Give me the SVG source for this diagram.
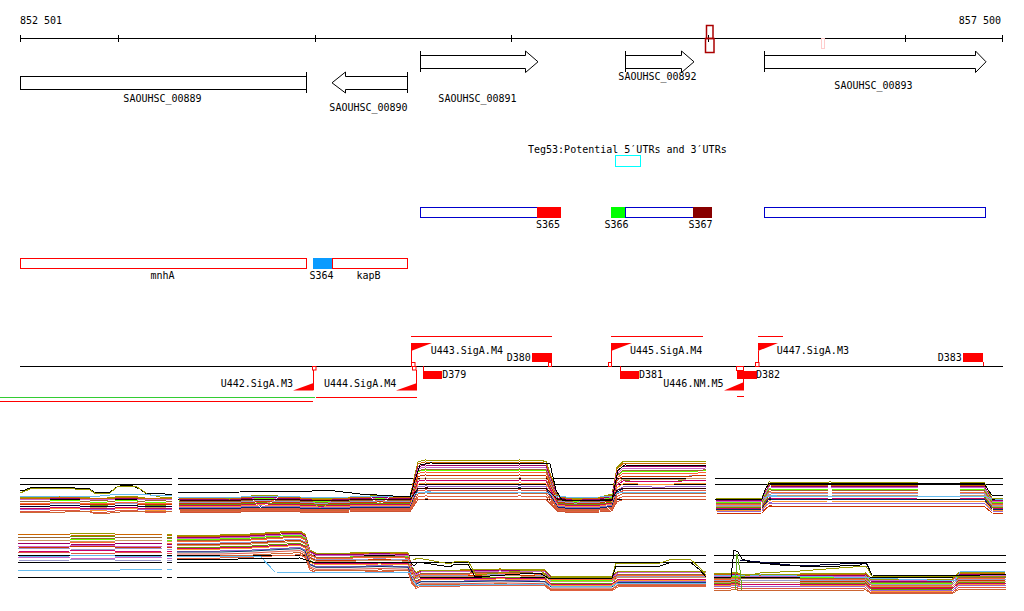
<svg xmlns="http://www.w3.org/2000/svg" width="1024" height="611" viewBox="0 0 1024 611">
<style>
.lb{font-family:"DejaVu Sans Mono","Liberation Mono",monospace;font-size:10px;fill:#000}
.gene{fill:#fff;stroke:#000;stroke-width:1}
.k{stroke:#000;stroke-width:1;fill:none}
.rs{stroke:#f00;stroke-width:1;fill:none}
.rf{fill:#f00}
.bx{fill:none;stroke:#00c;stroke-width:1}
.n{fill:none;stroke-width:1;vector-effect:non-scaling-stroke}
.t{fill:none;stroke-width:1}
.px{shape-rendering:crispEdges}
</style>
<defs>
<path id="tl" class="n" d="M20,0 L35,0.5 L50,0 L70,-0.5 L90,0.5 L100,1 L115,0 L130,-0.5 L145,0.5 L160,1 L172,0"/>
<path id="tm" class="n" d="M178,0 L230,0.03 L260,-0.05 L300,0 L320,0.05 L350,0 L380,-0.04 L410,0 L414,-0.5 L418,-0.95 L425,-1 L470,-0.98 L520,-1 L546,-0.97 L552,-0.5 L558,-0.03 L575,0.04 L600,0 L612,-0.08 L617,-0.8 L623,-0.96 L660,-0.95 L706,-0.97"/>
<path id="tr" class="n" d="M715,0 L740,0.03 L762,0 L765,-0.5 L769,-1 L800,-0.98 L830,-1 L870,-0.97 L920,-1 L960,-1 L984,-1 L988,-0.5 L992,0 L1003,0.02"/>
<path id="bl" class="n" d="M18,0 L40,0.5 L70,0 L100,-0.5 L130,0.5 L162,0 M167,0 L172,0"/>
<path id="bm" class="n" d="M177,0 L220,0 L250,-1 L280,-3 L300,-4 L305,-1 L310,15 L316,18 L350,18 L380,17 L408,18 L412,32 L416,38 L421,35 L460,35 L500,34 L545,35 L551,41 L612,41 L618,36 L706,36"/>
<path id="br" class="n" d="M714,0 L731,0 L735,-1 L740,1 L800,1 L866,0 L871,6 L952,6 L958,0 L1006,-1"/>
</defs>

<g id="ruler">
<line x1="20" y1="38.5" x2="1003" y2="38.5" class="k"/>
<path class="k" d="M20.5,35V42 M118.5,35V42 M315.5,35V42 M511.5,35V42 M708.5,35V42 M905.5,35V42 M1002.5,35V42"/>
<text class="lb" x="20" y="24">852 501</text>
<text class="lb" x="1001" y="24" text-anchor="end">857 500</text>
<rect x="706.5" y="25.5" width="6.5" height="13" fill="none" stroke="#a00" stroke-width="1.5"/>
<rect x="705.5" y="38.5" width="8.5" height="14" fill="none" stroke="#a00" stroke-width="1.5"/>
<rect x="821.5" y="38.5" width="3" height="10" fill="none" stroke="#fcc"/>
</g>

<g id="SAOUHSC_00889">
<rect class="gene" x="20.5" y="76.5" width="286" height="13"/>
<line class="k" x1="306.5" y1="72" x2="306.5" y2="93"/>
<text class="lb" x="162.5" y="101.5" text-anchor="middle">SAOUHSC_00889</text>
</g>
<g id="SAOUHSC_00890">
<polygon class="gene" points="407.5,76.5 345.5,76.5 345.5,72 332,82.8 345.5,93 345.5,89.5 407.5,89.5"/>
<line class="k" x1="407.5" y1="72" x2="407.5" y2="93"/>
<text class="lb" x="368.5" y="111" text-anchor="middle">SAOUHSC_00890</text>
</g>
<g id="SAOUHSC_00891">
<polygon class="gene" points="420.5,55.5 525.5,55.5 525.5,51 538,61.8 525.5,72.5 525.5,68.5 420.5,68.5"/>
<line class="k" x1="420.5" y1="51" x2="420.5" y2="72"/>
<text class="lb" x="477.5" y="101.5" text-anchor="middle">SAOUHSC_00891</text>
</g>
<g id="SAOUHSC_00892">
<polygon class="gene" points="625.5,55.5 681.5,55.5 681.5,51 694,61.8 681.5,72.5 681.5,68.5 625.5,68.5"/>
<line class="k" x1="625.5" y1="51" x2="625.5" y2="72"/>
<text class="lb" x="657.5" y="79.5" text-anchor="middle">SAOUHSC_00892</text>
</g>
<g id="SAOUHSC_00893">
<polygon class="gene" points="764.5,55.5 975.5,55.5 975.5,51 986,61.8 975.5,72.5 975.5,68.5 764.5,68.5"/>
<line class="k" x1="764.5" y1="51" x2="764.5" y2="72"/>
<text class="lb" x="873.5" y="88.8" text-anchor="middle">SAOUHSC_00893</text>
</g>

<g id="Teg53">
<text class="lb" x="528" y="152.5">Teg53:Potential 5′UTRs and 3′UTRs</text>
<rect x="615.5" y="155.5" width="25" height="11" fill="none" stroke="#0ff"/>
</g>

<g id="S365">
<rect class="bx" x="420.5" y="207.5" width="140" height="10"/>
<rect x="537" y="207" width="24" height="11" fill="#f00"/>
<text class="lb" x="548" y="228" text-anchor="middle">S365</text>
</g>
<g id="S366-S367">
<rect x="611" y="207" width="14.5" height="11" fill="#0f0"/>
<rect class="bx" x="625.5" y="207.5" width="86" height="10"/>
<rect x="693" y="207" width="19" height="11" fill="#800"/>
<text class="lb" x="616.5" y="228" text-anchor="middle">S366</text>
<text class="lb" x="700.5" y="228" text-anchor="middle">S367</text>
</g>
<g id="utr893">
<rect class="bx" x="764.5" y="207.5" width="221" height="10"/>
</g>

<g id="mnhA">
<rect x="20.5" y="258.5" width="286" height="10" fill="none" stroke="#f00"/>
<text class="lb" x="162.5" y="279" text-anchor="middle">mnhA</text>
</g>
<g id="S364">
<rect x="313" y="258" width="19" height="11" fill="#0a9bff"/>
<text class="lb" x="321.5" y="279" text-anchor="middle">S364</text>
</g>
<g id="kapB">
<rect x="332.5" y="258.5" width="75" height="10" fill="none" stroke="#f00"/>
<text class="lb" x="368.5" y="279" text-anchor="middle">kapB</text>
</g>

<g id="connectors">
<line class="k" x1="20" y1="366.5" x2="1003" y2="366.5"/>
<path class="rs" d="M313.5,370V390 M416.5,370V390 M411.5,343V363 M551.5,362V366 M423.5,366V371 M611.5,343V363 M620.5,366V371 M743.5,366V390 M758.5,351V363 M983.5,362V366"/>
<line x1="0" y1="397.5" x2="315" y2="397.5" stroke="#3c3" stroke-width="1"/>
<line x1="0" y1="401.5" x2="313" y2="401.5" stroke="#f00" stroke-width="1"/>
<line x1="316" y1="397.5" x2="417" y2="397.5" stroke="#f00" stroke-width="1"/>
<line x1="737" y1="396.5" x2="744" y2="396.5" stroke="#f00" stroke-width="1"/>
</g>

<g id="U442">
<polygon class="rf" points="293,390.5 313.5,390.5 313.5,383"/>
<rect class="rs" x="312.5" y="366.5" width="3.5" height="3.5"/>
<text class="lb" x="220.7" y="386.5">U442.SigA.M3</text>
</g>
<g id="U444">
<polygon class="rf" points="396,390.5 417,390.5 417,383"/>
<rect class="rs" x="412.5" y="366.5" width="3.5" height="3.5"/>
<text class="lb" x="324" y="386.5">U444.SigA.M4</text>
</g>
<g id="U443">
<line class="rs" x1="411" y1="336.5" x2="552" y2="336.5"/>
<polygon class="rf" points="411,343 432,343 411,351"/>
<rect class="rs" x="411.5" y="362.5" width="3.5" height="4"/>
<text class="lb" x="430.7" y="353.5">U443.SigA.M4</text>
</g>
<g id="D380">
<rect class="rf" x="532" y="353" width="20" height="9"/>
<rect class="rs" x="548.5" y="362.5" width="3" height="4"/>
<text class="lb" x="506.7" y="361">D380</text>
</g>
<g id="D379">
<rect class="rf" x="423" y="371" width="19" height="8"/>
<text class="lb" x="442.3" y="378.3">D379</text>
</g>
<g id="U445">
<line class="rs" x1="611" y1="336.5" x2="703" y2="336.5"/>
<polygon class="rf" points="611,343 632,343 611,351"/>
<rect class="rs" x="608.5" y="362.5" width="3" height="4"/>
<text class="lb" x="630" y="353.5">U445.SigA.M4</text>
</g>
<g id="D381">
<rect class="rf" x="620" y="371" width="19" height="8"/>
<text class="lb" x="639" y="378.3">D381</text>
</g>
<g id="U446">
<polygon class="rf" points="724,390.5 744,390.5 744,382"/>
<rect class="rs" x="736.5" y="366.5" width="7" height="4"/>
<text class="lb" x="663.3" y="387">U446.NM.M5</text>
</g>
<g id="D382">
<rect class="rf" x="737" y="371" width="20" height="8"/>
<text class="lb" x="756" y="378.3">D382</text>
</g>
<g id="U447">
<line class="rs" x1="758" y1="336.5" x2="783" y2="336.5"/>
<polygon class="rf" points="758,343 778,343 758,351"/>
<rect class="rs" x="755.5" y="362.5" width="3.5" height="4"/>
<text class="lb" x="776.7" y="353.5">U447.SigA.M3</text>
</g>
<g id="D383">
<rect class="rf" x="963" y="353" width="20" height="9"/>
<text class="lb" x="937.7" y="361">D383</text>
</g>

<g id="refLines" class="k px">
<path d="M20,478.5H172 M178,478.5H706 M715,478.5H1003 M20,484.5H172 M178,484.5H706 M715,484.5H1003 M20,499.5H172 M178,499.5H706 M715,499.5H1003"/>
<path d="M18,555.5H162 M167,555.5H172 M177,555.5H706 M714,555.5H1006 M18,562.5H162 M167,562.5H172 M177,562.5H706 M714,562.5H1006 M18,577.5H162 M167,577.5H172 M177,577.5H706 M714,577.5H1006"/>
</g>

<g id="traceTopLeft" class="px">
<use href="#tl" transform="translate(0,497) scale(1,2)" stroke="#999900"/>
<use href="#tl" transform="translate(0,498) scale(1,1)" stroke="#cc6600"/>
<use href="#tl" transform="translate(0,499) scale(1,2)" stroke="#990066"/>
<use href="#tl" transform="translate(0,500) scale(1,-1)" stroke="#cc66cc"/>
<use href="#tl" transform="translate(0,501) scale(1,2)" stroke="#66ff00"/>
<use href="#tl" transform="translate(0,502) scale(1,-2)" stroke="#996633"/>
<use href="#tl" transform="translate(0,503) scale(1,1)" stroke="#ff6633"/>
<use href="#tl" transform="translate(0,504) scale(1,2)" stroke="#9999cc"/>
<use href="#tl" transform="translate(0,505) scale(1,-1)" stroke="#cc3300"/>
<use href="#tl" transform="translate(0,506) scale(1,2)" stroke="#cc9966"/>
<use href="#tl" transform="translate(0,507) scale(1,-2)" stroke="#669900"/>
<use href="#tl" transform="translate(0,508) scale(1,1)" stroke="#cc0066"/>
<use href="#tl" transform="translate(0,509) scale(1,2)" stroke="#ff9933"/>
<use href="#tl" transform="translate(0,510) scale(1,-1)" stroke="#9966cc"/>
<use href="#tl" transform="translate(0,511) scale(1,2)" stroke="#dd5544"/>
<use href="#tl" transform="translate(0,506) scale(1,1)" stroke="#000033"/>
<path class="t" stroke="#000" d="M20,491 L25,490 L30,488 L60,487 L75,488 L90,489 L95,493 L110,492 L117,487 L123,485 L130,485 L140,489 L145,493 L165,494 L172,495"/>
<path class="t" stroke="#999900" d="M20,493 L30,489 L60,488 L90,490 L96,494 L110,493 L117,487 L125,486 L135,486 L142,490 L147,494 L160,497 L172,498"/>
<path class="t" stroke="#66bbee" d="M20,497 L60,496 L100,496 L110,495 L130,494 L150,495 L172,496"/>
<path class="t" stroke="#cc6633" d="M20,512 L40,513 L90,511 L95,514 L110,513 L130,511 L150,512 L172,511"/>
</g>

<g id="traceTopMid" class="px">
<use href="#tm" transform="translate(0,497) scale(1,37)" stroke="#999900"/>
<use href="#tm" transform="translate(0,498) scale(1,36)" stroke="#cc6600"/>
<use href="#tm" transform="translate(0,499) scale(1,34)" stroke="#990066"/>
<use href="#tm" transform="translate(0,500) scale(1,33)" stroke="#cc66cc"/>
<use href="#tm" transform="translate(0,500) scale(1,30)" stroke="#66ff00"/>
<use href="#tm" transform="translate(0,501) scale(1,32)" stroke="#996633"/>
<use href="#tm" transform="translate(0,502) scale(1,30)" stroke="#ff6633"/>
<use href="#tm" transform="translate(0,502) scale(1,27)" stroke="#9999cc"/>
<use href="#tm" transform="translate(0,503) scale(1,28)" stroke="#cc3300"/>
<use href="#tm" transform="translate(0,504) scale(1,26)" stroke="#cc9966"/>
<use href="#tm" transform="translate(0,504) scale(1,24)" stroke="#669900"/>
<use href="#tm" transform="translate(0,505) scale(1,25)" stroke="#cc0066"/>
<use href="#tm" transform="translate(0,506) scale(1,23)" stroke="#ff9933"/>
<use href="#tm" transform="translate(0,507) scale(1,21)" stroke="#9966cc"/>
<use href="#tm" transform="translate(0,508) scale(1,20)" stroke="#003366"/>
<use href="#tm" transform="translate(0,509) scale(1,19)" stroke="#dd5544"/>
<use href="#tm" transform="translate(0,510) scale(1,17)" stroke="#cc6633"/>
<use href="#tm" transform="translate(0,511) scale(1,15)" stroke="#e06040"/>
<use href="#tm" transform="translate(0,512) scale(1,13)" stroke="#cc5533"/>
<use href="#tm" transform="translate(0,497) scale(1,5)" stroke="#66bbee"/>
<use href="#tm" transform="translate(0,500) scale(1,12)" stroke="#330000"/>
<path class="t" stroke="#000" d="M178,493 L240,492 L270,491 L300,492 L325,490 L335,491 L360,494 L410,497 L415,480 L420,465 L430,463 L550,464 L556,490 L562,500 L612,500 L618,470 L625,465 L706,466"/>
</g>

<g id="traceTopRight" class="px">
<use href="#tr" transform="translate(0,498) scale(1,16)" stroke="#999900"/>
<use href="#tr" transform="translate(0,500) scale(1,15)" stroke="#cc6600"/>
<use href="#tr" transform="translate(0,500) scale(1,14)" stroke="#990066"/>
<use href="#tr" transform="translate(0,501) scale(1,14)" stroke="#cc66cc"/>
<use href="#tr" transform="translate(0,502) scale(1,13)" stroke="#66ff00"/>
<use href="#tr" transform="translate(0,503) scale(1,13)" stroke="#996633"/>
<use href="#tr" transform="translate(0,504) scale(1,12)" stroke="#ff6633"/>
<use href="#tr" transform="translate(0,505) scale(1,12)" stroke="#9999cc"/>
<use href="#tr" transform="translate(0,506) scale(1,11)" stroke="#cc9966"/>
<use href="#tr" transform="translate(0,507) scale(1,11)" stroke="#669900"/>
<use href="#tr" transform="translate(0,508) scale(1,10)" stroke="#cc0066"/>
<use href="#tr" transform="translate(0,509) scale(1,10)" stroke="#003366"/>
<use href="#tr" transform="translate(0,510) scale(1,9)" stroke="#ff9933"/>
<use href="#tr" transform="translate(0,511) scale(1,8)" stroke="#9966cc"/>
<use href="#tr" transform="translate(0,513) scale(1,7)" stroke="#cc3300"/>
<use href="#tr" transform="translate(0,499) scale(1,3)" stroke="#66bbee"/>
<path class="t" stroke="#000" d="M715,499 L762,499 L765,490 L769,483 L984,483 L988,490 L992,495 L1003,495"/>
</g>

<g id="traceBotLeft" class="px">
<use href="#bl" transform="translate(0,534) scale(1,1)" stroke="#999900"/>
<use href="#bl" transform="translate(0,535) scale(1,-1)" stroke="#cc6600"/>
<use href="#bl" transform="translate(0,537) scale(1,2)" stroke="#669900"/>
<use href="#bl" transform="translate(0,538) scale(1,-1)" stroke="#996633"/>
<use href="#bl" transform="translate(0,540) scale(1,1)" stroke="#66ff00"/>
<use href="#bl" transform="translate(0,541) scale(1,-2)" stroke="#cc9966"/>
<use href="#bl" transform="translate(0,543) scale(1,1)" stroke="#ff6633"/>
<use href="#bl" transform="translate(0,544) scale(1,-1)" stroke="#990066"/>
<use href="#bl" transform="translate(0,546) scale(1,2)" stroke="#cc66cc"/>
<use href="#bl" transform="translate(0,547) scale(1,1)" stroke="#cc3300"/>
<use href="#bl" transform="translate(0,549) scale(1,-1)" stroke="#9999cc"/>
<use href="#bl" transform="translate(0,551) scale(1,1)" stroke="#cc0066"/>
<use href="#bl" transform="translate(0,553) scale(1,-1)" stroke="#dd5544"/>
<use href="#bl" transform="translate(0,556) scale(1,1)" stroke="#66bbee"/>
<use href="#bl" transform="translate(0,558) scale(1,-1)" stroke="#cc66cc"/>
<use href="#bl" transform="translate(0,560) scale(1,1)" stroke="#9999cc"/>
<path class="t" stroke="#66bbee" d="M18,570 L120,570 L125,569 L162,569 M167,569 L172,569"/>
</g>

<g id="traceBotMid" class="px">
<use href="#bm" transform="translate(0,535) scale(1,1)" stroke="#999900"/>
<use href="#bm" transform="translate(0,536) scale(1,1)" stroke="#cc6600"/>
<use href="#bm" transform="translate(0,537) scale(1,0.98)" stroke="#990066"/>
<use href="#bm" transform="translate(0,538) scale(1,0.97)" stroke="#cc66cc"/>
<use href="#bm" transform="translate(0,539) scale(1,1)" stroke="#66ff00"/>
<use href="#bm" transform="translate(0,540) scale(1,0.95)" stroke="#996633"/>
<use href="#bm" transform="translate(0,541) scale(1,0.95)" stroke="#ff6633"/>
<use href="#bm" transform="translate(0,543) scale(1,0.93)" stroke="#9999cc"/>
<use href="#bm" transform="translate(0,544) scale(1,0.92)" stroke="#cc3300"/>
<use href="#bm" transform="translate(0,545) scale(1,0.9)" stroke="#cc9966"/>
<use href="#bm" transform="translate(0,547) scale(1,0.9)" stroke="#669900"/>
<use href="#bm" transform="translate(0,548) scale(1,0.88)" stroke="#cc0066"/>
<use href="#bm" transform="translate(0,549) scale(1,0.88)" stroke="#ff9933"/>
<use href="#bm" transform="translate(0,551) scale(1,0.86)" stroke="#9966cc"/>
<use href="#bm" transform="translate(0,552) scale(1,0.85)" stroke="#003366"/>
<use href="#bm" transform="translate(0,554) scale(1,0.85)" stroke="#dd5544"/>
<use href="#bm" transform="translate(0,556) scale(1,0.82)" stroke="#cc6633"/>
<use href="#bm" transform="translate(0,558) scale(1,0.8)" stroke="#e06040"/>
<path class="t" stroke="#66bbee" d="M177,556 L260,556 L275,572 L410,573 L416,585 L460,585 L545,584 L551,586 L612,586 L618,583 L706,583"/>
<path class="t" stroke="#999900" d="M413,560 L418,558 L450,564 L456,561 L468,561 L476,575 L520,571 L540,570 L548,577 L612,577 L616,563 L660,563 L672,559 L690,559 L700,568 L706,575"/>
<path class="t" stroke="#000" d="M177,560 L300,558 L306,560 L312,562 L410,562 L414,566 L418,562 L450,567 L455,564 L468,564 L475,577 L520,574 L540,573 L548,578 L612,578 L616,566 L660,566 L672,562 L690,562 L700,570 L706,577"/>
</g>

<g id="traceBotRight" class="px">
<use href="#br" transform="translate(0,573) scale(1,1)" stroke="#999900"/>
<use href="#br" transform="translate(0,574) scale(1,1)" stroke="#cc6600"/>
<use href="#br" transform="translate(0,575) scale(1,1)" stroke="#990066"/>
<use href="#br" transform="translate(0,576) scale(1,0.8)" stroke="#cc66cc"/>
<use href="#br" transform="translate(0,577) scale(1,1)" stroke="#66ff00"/>
<use href="#br" transform="translate(0,578) scale(1,0.8)" stroke="#996633"/>
<use href="#br" transform="translate(0,579) scale(1,1)" stroke="#ff6633"/>
<use href="#br" transform="translate(0,580) scale(1,0.7)" stroke="#9999cc"/>
<use href="#br" transform="translate(0,581) scale(1,1)" stroke="#cc3300"/>
<use href="#br" transform="translate(0,582) scale(1,0.8)" stroke="#cc9966"/>
<use href="#br" transform="translate(0,583) scale(1,1)" stroke="#669900"/>
<use href="#br" transform="translate(0,584) scale(1,0.7)" stroke="#cc0066"/>
<use href="#br" transform="translate(0,585) scale(1,1)" stroke="#ff9933"/>
<use href="#br" transform="translate(0,586) scale(1,0.8)" stroke="#9966cc"/>
<use href="#br" transform="translate(0,588) scale(1,0.8)" stroke="#dd5544"/>
<use href="#br" transform="translate(0,590) scale(1,0.6)" stroke="#cc6633"/>
<path class="t" stroke="#66bbee" d="M714,576 L760,575 L870,578 L955,581 L960,572 L1006,571"/>
<path class="t" stroke="#999900" d="M714,578 L740,577 L760,573 L800,571 L866,566 L872,576 L1006,576"/>
<path class="t" stroke="#66aa22" d="M735,590 L737,554 L740,570 L742,590"/>
<path class="t" stroke="#000033" d="M740,560 L760,562 L800,566 L860,563 L866,563 L870,571"/>
<path class="t" stroke="#000" d="M714,577 L731,577 L734,550 L738,552 L742,559 L750,562 L780,565 L820,567 L860,565 L866,562 L872,575 L955,576 L1006,574"/>
</g>
</svg>
